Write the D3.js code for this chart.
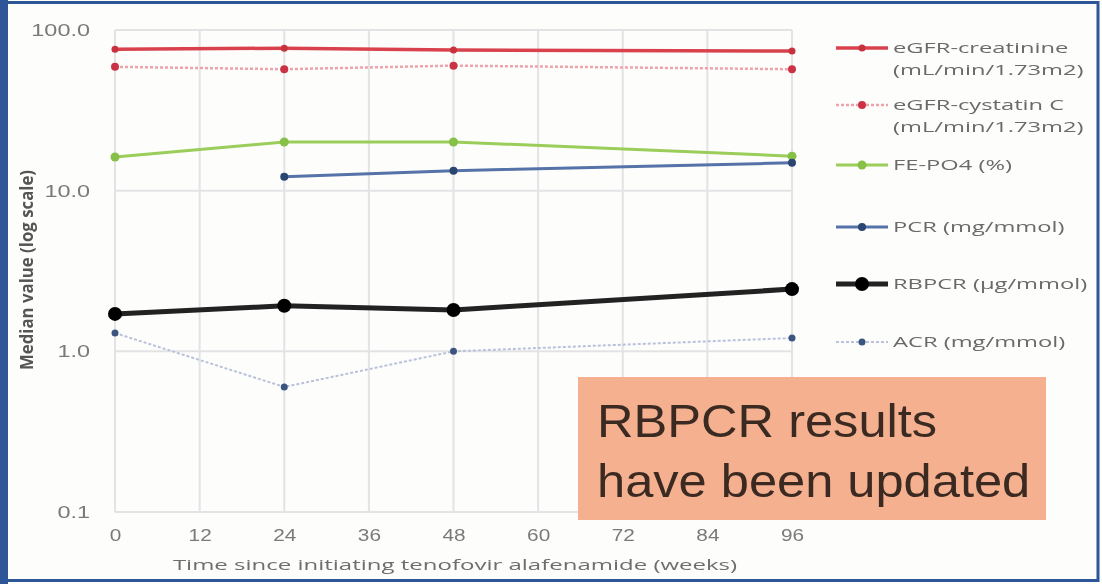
<!DOCTYPE html>
<html>
<head>
<meta charset="utf-8">
<script src="https://cdn.jsdelivr.net/npm/d3@7"></script>
<style>
  body { margin: 0; background: #fff; }
  svg { display: block; font-family: "Open Sans", "DejaVu Sans", sans-serif; }
</style>
</head>
<body>
<svg id="chart" width="1102" height="584"></svg>
<script>
// data (weeks, median values)
var weeks = [0, 24, 48, 96];
var xTicks = [0, 12, 24, 36, 48, 60, 72, 84, 96];
var yTicks = [0.1, 1, 10, 100];

var egfrCreat = [76, 77, 75, 74];
var egfrCyst = [59, 57, 60, 57];
var fePo4 = [16.2, 20.1, 20.1, 16.4];
var pcr = [null, 12.2, 13.3, 14.9];
var rbpcr = [1.71, 1.92, 1.81, 2.44];
var acr = [1.30, 0.60, 1.00, 1.21];

var series = [
  {name: ["eGFR-creatinine", "(mL/min/1.73m2)"], values: egfrCreat, color: "#d9434e", width: 3.5, dash: null, r: 3.5, mcolor: "#c8303c", ly: 48},
  {name: ["eGFR-cystatin C", "(mL/min/1.73m2)"], values: egfrCyst, color: "#eea3ab", width: 2.5, dash: "3,2", r: 4, mcolor: "#cc3344", ly: 105},
  {name: ["FE-PO4 (%)"], values: fePo4, color: "#9acd5a", width: 3, dash: null, r: 4.5, mcolor: "#86c046", ly: 165},
  {name: ["PCR (mg/mmol)"], values: pcr, color: "#5573a8", width: 3, dash: null, r: 4, mcolor: "#2c4470", ly: 227},
  {name: ["RBPCR (\u00b5g/mmol)"], values: rbpcr, color: "#222", width: 5, dash: null, r: 7, mcolor: "#000", ly: 284},
  {name: ["ACR (mg/mmol)"], values: acr, color: "#b9c2da", width: 2, dash: "3,2", r: 3.5, mcolor: "#3a5580", ly: 342}
];

var svg = d3.select("#chart");

// the source picture is soft, so blur a little
svg.append("defs").append("filter").attr("id", "soft")
  .append("feGaussianBlur").attr("stdDeviation", 0.7);

svg.append("rect").attr("x", 0).attr("y", 0).attr("width", 1102).attr("height", 584).attr("fill", "#fdfdfc");
var root = svg.append("g").attr("filter", "url(#soft)");

// outer frame
root.append("rect").attr("x", 4).attr("y", 2.5).attr("width", 1094).attr("height", 578)
  .attr("fill", "none").attr("stroke", "#2f5597").attr("stroke-width", 3);
root.append("rect").attr("x", 0).attr("y", 0).attr("width", 8).attr("height", 584).attr("fill", "#2f5597");

var x = d3.scaleLinear().domain([0, 96]).range([115, 792]);
var y = d3.scaleLog().domain([0.1, 100]).range([512, 30]);

// gridlines
root.append("g").selectAll("line").data(xTicks).join("line")
  .attr("x1", d => x(d)).attr("x2", d => x(d))
  .attr("y1", y(100)).attr("y2", y(0.1))
  .attr("stroke", "#e3e3e6").attr("stroke-width", 2);
root.append("g").selectAll("line").data(yTicks).join("line")
  .attr("x1", x(0)).attr("x2", x(96))
  .attr("y1", d => y(d)).attr("y2", d => y(d))
  .attr("stroke", "#e3e3e6").attr("stroke-width", 2);

// axes (text in the picture is stretched sideways, hence the scale())
var yAxis = root.append("g").attr("transform", "translate(" + x(0) + ",0)")
  .call(d3.axisLeft(y).tickValues(yTicks).tickFormat(d3.format(".1f")).tickSize(0));
yAxis.select(".domain").remove();
yAxis.selectAll("text").attr("fill", "#7a7a7a").attr("font-size", 17)
  .attr("x", -25 / 1.38).attr("transform", "scale(1.38,1)");

var xAxis = root.append("g").attr("transform", "translate(0," + y(0.1) + ")")
  .call(d3.axisBottom(x).tickValues(xTicks).tickSize(0).tickPadding(18));
xAxis.select(".domain").remove();
xAxis.selectAll("text").attr("fill", "#7a7a7a").attr("font-size", 16)
  .attr("transform", "scale(1.3,1)");

root.append("text").attr("transform", "translate(455,570) scale(1.6,1)").attr("text-anchor", "middle")
  .attr("fill", "#6e6e6e").attr("font-size", 15)
  .text("Time since initiating tenofovir alafenamide (weeks)");

root.append("text").attr("transform", "translate(33,270) rotate(-90)").attr("text-anchor", "middle")
  .attr("fill", "#555").attr("font-size", 17).attr("font-weight", "bold")
  .attr("textLength", 200).attr("lengthAdjust", "spacingAndGlyphs")
  .text("Median value (log scale)");

// lines
var line = d3.line()
  .defined(d => d.v != null)
  .x(d => x(d.w))
  .y(d => y(d.v));

series.forEach(function(s) {
  var pts = weeks.map((w, i) => ({w: w, v: s.values[i]}));
  root.append("path").datum(pts)
    .attr("fill", "none").attr("stroke", s.color).attr("stroke-width", s.width)
    .attr("stroke-dasharray", s.dash).attr("stroke-linejoin", "round")
    .attr("d", line);
  root.append("g").selectAll("circle").data(pts.filter(d => d.v != null)).join("circle")
    .attr("cx", d => x(d.w)).attr("cy", d => y(d.v)).attr("r", s.r)
    .attr("fill", s.mcolor);
});

// legend
var lg = root.append("g");
series.forEach(function(s) {
  lg.append("line").attr("x1", 836).attr("x2", 888).attr("y1", s.ly).attr("y2", s.ly)
    .attr("stroke", s.color).attr("stroke-width", s.width).attr("stroke-dasharray", s.dash);
  lg.append("circle").attr("cx", 862).attr("cy", s.ly).attr("r", s.r).attr("fill", s.mcolor);
  s.name.forEach(function(t, i) {
    lg.append("text").attr("transform", "translate(893," + (s.ly + 5 + i * 22) + ") scale(1.58,1)")
      .attr("fill", "#6a6a6a").attr("font-size", 15)
      .text(t);
  });
});

// annotation
root.append("rect").attr("x", 578).attr("y", 377).attr("width", 468).attr("height", 143)
  .attr("fill", "#f4b08f");
root.append("text").attr("transform", "translate(597,437) scale(1.1,1)")
  .attr("fill", "#3b2a22").attr("font-size", 46).attr("font-family", "Liberation Sans, Arial, sans-serif")
  .text("RBPCR results");
root.append("text").attr("transform", "translate(597,497) scale(1.1,1)")
  .attr("fill", "#3b2a22").attr("font-size", 46).attr("font-family", "Liberation Sans, Arial, sans-serif")
  .text("have been updated");
</script>
</body>
</html>
